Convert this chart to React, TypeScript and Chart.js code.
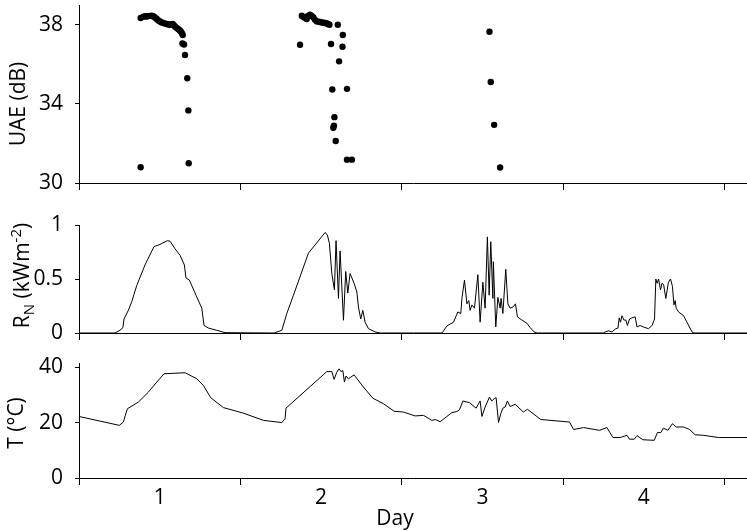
import React, { useEffect, useRef } from 'react';
import { Chart, registerables } from 'chart.js';

Chart.register(...registerables);

const FONT = '"Open Sans", "Noto Sans", sans-serif';
const FS = 21;
const X_MIN = 0.5;
const X_MAX = 4.64;
const dayTicks = [1, 2, 3, 4];
const dayTickMarks = [0.5, 1.5, 2.5, 3.5, 4.5];

const uaeTicks = [30, 34, 38];
const rnTicks = [0, 0.5, 1];
const tTicks = [0, 20, 40];

// UAE scatter (dB)
const uaeDays = [
  0.882, 0.882, 0.899, 0.910, 0.920, 0.930, 0.940, 0.951, 0.958, 0.965, 0.974, 0.982, 0.992, 1.002,
  1.012, 1.023, 1.034, 1.044, 1.054, 1.064, 1.073, 1.081, 1.089, 1.096, 1.106, 1.116, 1.124, 1.131,
  1.138, 1.143, 1.141, 1.151, 1.157, 1.171, 1.178, 1.180,
  1.870, 1.881, 1.890, 1.900, 1.911, 1.920, 1.932, 1.942, 1.953, 1.963, 1.974, 1.984, 1.994, 2.005,
  2.015, 2.026, 2.036, 2.044, 2.052, 2.062, 2.070, 2.076, 2.080, 2.083, 2.091, 2.104, 2.112, 2.133,
  2.135, 2.161, 2.161, 2.191,
  3.044, 3.052, 3.073, 3.110,
];
const uaeValues = [
  30.8, 38.34, 38.41, 38.43, 38.42, 38.44, 38.45, 38.46, 38.43, 38.41, 38.35, 38.29, 38.22, 38.17,
  38.12, 38.09, 38.06, 38.04, 38.02, 38.0, 38.02, 38.04, 37.96, 37.9, 37.84, 37.78, 37.72, 37.66,
  37.57, 37.48, 37.05, 37.0, 36.47, 35.3, 33.67, 31.0,
  36.99, 38.46, 38.4, 38.35, 38.29, 38.45, 38.51, 38.45, 38.37, 38.25, 38.17, 38.16, 38.14, 38.12,
  38.1, 38.09, 38.07, 38.04, 38.0, 37.03, 34.73, 32.79, 32.9, 33.33, 32.12, 38.0, 36.15, 36.89,
  37.48, 34.76, 31.18, 31.18,
  37.65, 35.11, 32.94, 30.78,
];

// Net radiation R_N (kW m^-2)
const rnDays = [
  0.5, 0.723, 0.754, 0.772, 0.779, 0.806, 0.827, 0.858, 0.909, 0.965, 1.002, 1.047, 1.064, 1.095,
  1.126, 1.153, 1.163, 1.184, 1.225, 1.261, 1.275, 1.302, 1.354, 1.405, 1.709,
  1.757, 1.788, 1.829, 1.922, 2.025, 2.039, 2.052, 2.067, 2.083, 2.093, 2.108, 2.118, 2.139, 2.153,
  2.166, 2.180, 2.205, 2.222, 2.232, 2.246, 2.259, 2.273, 2.294, 2.335, 2.366, 2.749,
  2.755, 2.780, 2.821, 2.848, 2.866, 2.874, 2.889, 2.904, 2.916, 2.924, 2.935, 2.951, 2.972, 2.986,
  3.003, 3.017, 3.031, 3.042, 3.052, 3.065, 3.068, 3.083, 3.096, 3.110, 3.116, 3.127, 3.145, 3.158,
  3.172, 3.189, 3.205, 3.217, 3.245, 3.276, 3.296, 3.321, 3.340, 3.750,
  3.761, 3.782, 3.803, 3.827, 3.840, 3.848, 3.856, 3.865, 3.877, 3.889, 3.899, 3.912, 3.927, 3.947,
  3.958, 3.978, 3.998, 4.029, 4.052, 4.067, 4.075, 4.083, 4.092, 4.104, 4.113, 4.123, 4.137, 4.153,
  4.166, 4.178, 4.187, 4.195, 4.201, 4.216, 4.247, 4.268, 4.299, 4.310, 4.64,
];
const rnValues = [
  0, 0, 0.025, 0.05, 0.13, 0.21, 0.29, 0.44, 0.63, 0.8, 0.82, 0.855, 0.85, 0.78,
  0.72, 0.63, 0.51, 0.49, 0.35, 0.23, 0.07, 0.046, 0.025, 0.003, 0,
  0.025, 0.18, 0.35, 0.74, 0.93, 0.91, 0.83, 0.55, 0.4, 0.855, 0.32, 0.76, 0.118, 0.57,
  0.37, 0.55, 0.46, 0.38, 0.24, 0.13, 0.21, 0.1, 0.04, 0.01, 0, 0,
  0.01, 0.065, 0.1, 0.195, 0.18, 0.33, 0.49, 0.27, 0.3, 0.21, 0.26, 0.23, 0.54, 0.1,
  0.47, 0.23, 0.89, 0.35, 0.845, 0.32, 0.66, 0.056, 0.33, 0.23, 0.32, 0.18, 0.59, 0.27,
  0.23, 0.24, 0.27, 0.15, 0.12, 0.09, 0.05, 0.01, 0, 0,
  0.01, 0.02, 0.01, 0.04, 0.045, 0.14, 0.1, 0.16, 0.12, 0.12, 0.07, 0.13, 0.14, 0.15,
  0.056, 0.07, 0.056, 0.04, 0.07, 0.13, 0.5, 0.46, 0.5, 0.4, 0.46, 0.45, 0.32, 0.47,
  0.5, 0.43, 0.26, 0.3, 0.23, 0.195, 0.16, 0.1, 0.01, 0, 0,
];

// Air temperature T (°C)
const tDays = [
  0.5, 0.75, 0.775, 0.787, 0.8, 0.868, 0.93, 0.982, 1.027, 1.157, 1.23, 1.271, 1.316, 1.395,
  1.519, 1.643, 1.757, 1.777, 1.783, 2.036, 2.067, 2.081, 2.098, 2.112, 2.124, 2.135, 2.145,
  2.155, 2.17, 2.184, 2.205, 2.263, 2.321, 2.387, 2.453, 2.511, 2.583, 2.635, 2.687, 2.71,
  2.738, 2.811, 2.842, 2.858, 2.879, 2.904, 2.92, 2.961, 2.986, 2.997, 3.017, 3.044, 3.058,
  3.073, 3.085, 3.1, 3.114, 3.127, 3.141, 3.155, 3.172, 3.203, 3.254, 3.279, 3.362, 3.54,
  3.565, 3.627, 3.726, 3.772, 3.809, 3.854, 3.896, 3.912, 3.941, 3.958, 3.995, 4.065, 4.085,
  4.106, 4.122, 4.15, 4.178, 4.201, 4.247, 4.284, 4.319, 4.371, 4.464, 4.64,
];
const tValues = [
  22.2, 19.0, 20.2, 22.6, 25.0, 27.4, 31.0, 34.6, 37.6, 38.0, 35.8, 33.4, 29.0, 25.4,
  23.4, 20.8, 20.0, 21.4, 25.2, 38.4, 38.4, 35.6, 38.2, 39.4, 38.4, 38.8, 34.6,
  36.8, 35.8, 36.4, 37.2, 32.8, 28.8, 26.8, 24.1, 23.8, 22.4, 22.6, 20.8, 21.1,
  20.3, 23.6, 24.0, 24.6, 27.8, 27.4, 27.2, 25.2, 27.8, 22.2, 25.6, 29.2, 27.8,
  28.6, 29.0, 20.0, 23.2, 25.2, 25.6, 27.8, 25.8, 26.6, 23.8, 24.8, 21.1, 20.2,
  17.5, 18.2, 17.2, 18.2, 14.6, 14.6, 15.4, 14.0, 14.0, 15.3, 13.8, 13.6, 16.4,
  16.4, 18.0, 17.2, 19.6, 18.4, 18.4, 17.5, 15.6, 15.4, 14.6, 14.6,
];

const toPoints = (xs: number[], ys: number[]) => xs.map((x, i) => ({ x, y: ys[i] }));

type Part = { text: string; size: number; shift: number };
type TextItem = { parts: Part[]; x: number; y: number; rotate: boolean };

function textPlugin(items: TextItem[]) {
  return {
    id: 'customTitles',
    afterDraw(chart: any) {
      const ctx = chart.ctx as CanvasRenderingContext2D;
      items.forEach((it) => {
        ctx.save();
        ctx.fillStyle = '#000';
        ctx.textBaseline = 'alphabetic';
        ctx.textAlign = 'left';
        let total = 0;
        const widths = it.parts.map((p) => {
          ctx.font = `${p.size}px ${FONT}`;
          const w = ctx.measureText(p.text).width;
          total += w;
          return w;
        });
        ctx.translate(it.x, it.y);
        if (it.rotate) ctx.rotate(-Math.PI / 2);
        let pos = -total / 2;
        it.parts.forEach((p, i) => {
          ctx.font = `${p.size}px ${FONT}`;
          ctx.fillText(p.text, pos, p.shift);
          pos += widths[i];
        });
        ctx.restore();
      });
    },
  };
}

function xScale(showLabels: boolean, height: number) {
  return {
    type: 'linear',
    min: X_MIN,
    max: X_MAX,
    afterBuildTicks: (s: any) => {
      s.ticks = [...dayTickMarks, ...dayTicks].sort((a, b) => a - b).map((v) => ({ value: v }));
    },
    ticks: {
      autoSkip: false,
      maxRotation: 0,
      padding: 0,
      color: '#000',
      font: { family: FONT, size: FS },
      callback: (v: any) => (showLabels && dayTicks.includes(v) ? String(v) : ''),
    },
    grid: {
      drawOnChartArea: false,
      drawTicks: true,
      tickLength: 7,
      tickColor: (ctx: any) =>
        ctx.tick && dayTicks.includes(ctx.tick.value) ? 'rgba(0,0,0,0)' : '#000',
      tickWidth: 1,
    },
    border: { display: true, color: '#000', width: 1 },
    afterFit: (s: any) => {
      s.height = height;
      s.paddingLeft = 0;
      s.paddingRight = 0;
    },
  };
}

function yScale(min: number, max: number, ticks: number[]) {
  return {
    type: 'linear',
    min,
    max,
    afterBuildTicks: (s: any) => {
      s.ticks = ticks.map((v) => ({ value: v }));
    },
    ticks: {
      padding: 12,
      color: '#000',
      font: { family: FONT, size: FS },
      callback: (v: any) => String(v),
    },
    grid: { drawOnChartArea: false, drawTicks: true, tickLength: 4, tickColor: '#000' },
    border: { display: true, color: '#000', width: 1 },
    afterFit: (s: any) => {
      s.width = 79;
      s.paddingTop = 0;
      s.paddingBottom = 0;
    },
  };
}

function baseOptions(padTop: number, xs: any, ys: any) {
  return {
    responsive: false,
    maintainAspectRatio: false,
    animation: false,
    events: [],
    layout: { autoPadding: false, padding: { top: padTop, left: 0, right: 0, bottom: 0 } },
    plugins: { legend: { display: false }, tooltip: { enabled: false }, title: { display: false } },
    scales: { x: xs, y: ys },
  };
}

export default function App() {
  const r1 = useRef<HTMLCanvasElement>(null);
  const r2 = useRef<HTMLCanvasElement>(null);
  const r3 = useRef<HTMLCanvasElement>(null);

  useEffect(() => {
    const c1 = new Chart(r1.current as HTMLCanvasElement, {
      type: 'scatter',
      data: {
        datasets: [
          {
            data: toPoints(uaeDays, uaeValues),
            pointRadius: 3.2,
            pointHoverRadius: 3.2,
            backgroundColor: '#000',
            borderWidth: 0,
          },
        ],
      },
      options: baseOptions(5, xScale(false, 17), yScale(30, 39, uaeTicks)) as any,
      plugins: [
        textPlugin([
          { parts: [{ text: 'UAE (dB)', size: FS, shift: 0 }], x: 25, y: 104, rotate: true },
        ]),
      ],
    });
    const c2 = new Chart(r2.current as HTMLCanvasElement, {
      type: 'scatter',
      data: {
        datasets: [
          {
            data: toPoints(rnDays, rnValues),
            showLine: true,
            pointRadius: 0,
            pointHoverRadius: 0,
            borderColor: '#000',
            borderWidth: 1,
            tension: 0,
          },
        ],
      },
      options: baseOptions(25, xScale(false, 17), yScale(0, 1, rnTicks)) as any,
      plugins: [
        textPlugin([
          {
            parts: [
              { text: 'R', size: FS, shift: 0 },
              { text: 'N', size: 15, shift: 5 },
              { text: ' (kWm', size: FS, shift: 0 },
              { text: '-2', size: 15, shift: -8 },
              { text: ')', size: FS, shift: 0 },
            ],
            x: 29,
            y: 75.5,
            rotate: true,
          },
        ]),
      ],
    });
    const c3 = new Chart(r3.current as HTMLCanvasElement, {
      type: 'scatter',
      data: {
        datasets: [
          {
            data: toPoints(tDays, tValues),
            showLine: true,
            pointRadius: 0,
            pointHoverRadius: 0,
            borderColor: '#000',
            borderWidth: 1,
            tension: 0,
          },
        ],
      },
      options: baseOptions(13, xScale(true, 53), yScale(0, 41.5, tTicks)) as any,
      plugins: [
        textPlugin([
          { parts: [{ text: 'T (°C)', size: FS, shift: 0 }], x: 23, y: 73, rotate: true },
          { parts: [{ text: 'Day', size: FS, shift: 0 }], x: 395, y: 175, rotate: false },
        ]),
      ],
    });
    return () => {
      c1.destroy();
      c2.destroy();
      c3.destroy();
    };
  }, []);

  return (
    <div style={{ position: 'absolute', left: 0, top: 0, width: 747, height: 531, background: '#fff' }}>
      <canvas ref={r1} width={747} height={200} style={{ position: 'absolute', left: 0, top: 0 }} />
      <canvas ref={r2} width={747} height={150} style={{ position: 'absolute', left: 0, top: 200 }} />
      <canvas ref={r3} width={747} height={181} style={{ position: 'absolute', left: 0, top: 350 }} />
    </div>
  );
}
